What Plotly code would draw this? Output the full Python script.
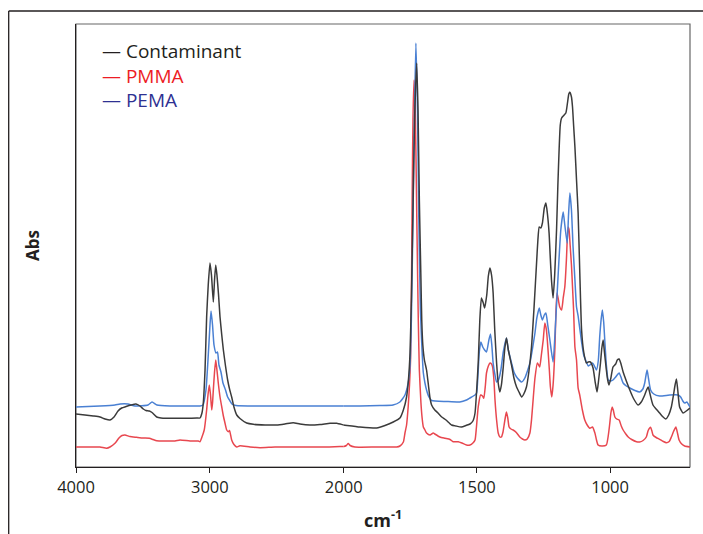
import plotly.graph_objects as go

# ---------------- data ----------------
tick_left = [4000, 3000, 2000]
tick_right = [1500, 1000]

pema_wn = [4000, 3821, 3709, 3671, 3612, 3559, 3462, 3432, 3395, 3298,
           3186, 3074, 3051, 3029, 3014, 2999, 2991, 2980, 2969, 2954,
           2943, 2932, 2917, 2902, 2883, 2867, 2849, 2835, 2805, 2625,
           2379, 2177, 2000, 1939, 1864, 1815, 1789, 1770, 1758, 1751,
           1746, 1740, 1734, 1729, 1723, 1718, 1712, 1706, 1701, 1695,
           1689, 1680, 1670, 1614, 1564, 1539, 1526, 1507, 1501, 1496,
           1491, 1485, 1478, 1464, 1455, 1449, 1444, 1439, 1432, 1426,
           1419, 1410, 1401, 1389, 1382, 1370, 1361, 1351, 1332, 1320,
           1309, 1301, 1292, 1282, 1275, 1266, 1260, 1254, 1247, 1241,
           1234, 1226, 1214, 1204, 1194, 1185, 1176, 1170, 1161, 1156,
           1151, 1145, 1139, 1132, 1126, 1120, 1107, 1099, 1089, 1082,
           1076, 1066, 1059, 1051, 1044, 1039, 1033, 1029, 1024, 1020,
           1014, 1007, 997, 989, 979, 966, 958, 951, 939, 926,
           907, 889, 877, 870, 865, 861, 856, 848, 836, 814,
           776, 745, 735, 727, 720, 712, 700]
pema_abs = [0.060, 0.061, 0.062, 0.063, 0.063, 0.061, 0.062, 0.065, 0.062, 0.061,
            0.061, 0.061, 0.062, 0.077, 0.107, 0.142, 0.156, 0.142, 0.122, 0.114,
            0.115, 0.102, 0.095, 0.084, 0.077, 0.070, 0.066, 0.063, 0.0615, 0.061,
            0.061, 0.061, 0.061, 0.061, 0.0615, 0.062, 0.065, 0.072, 0.084, 0.102,
            0.147, 0.247, 0.357, 0.424, 0.357, 0.247, 0.157, 0.117, 0.094, 0.084,
            0.077, 0.070, 0.0665, 0.0655, 0.065, 0.067, 0.069, 0.072, 0.074, 0.092,
            0.115, 0.125, 0.120, 0.115, 0.127, 0.133, 0.122, 0.104, 0.092, 0.085,
            0.087, 0.097, 0.115, 0.129, 0.117, 0.104, 0.095, 0.090, 0.085, 0.089,
            0.097, 0.104, 0.117, 0.134, 0.149, 0.159, 0.152, 0.147, 0.152, 0.154,
            0.142, 0.127, 0.105, 0.147, 0.197, 0.237, 0.255, 0.242, 0.224, 0.252,
            0.274, 0.257, 0.220, 0.187, 0.160, 0.151, 0.125, 0.112, 0.105, 0.101,
            0.102, 0.104, 0.101, 0.097, 0.107, 0.130, 0.149, 0.157, 0.145, 0.127,
            0.102, 0.087, 0.086, 0.087, 0.090, 0.094, 0.089, 0.084, 0.081, 0.079,
            0.0765, 0.075, 0.078, 0.084, 0.092, 0.097, 0.089, 0.077, 0.073, 0.071,
            0.072, 0.072, 0.070, 0.066, 0.064, 0.065, 0.060]

cont_wn = [4000, 3933, 3871, 3821, 3783, 3746, 3716, 3686, 3659, 3626,
           3589, 3552, 3522, 3497, 3477, 3452, 3432, 3397, 3365, 3322,
           3253, 3173, 3098, 3074, 3059, 3049, 3036, 3024, 3012, 2999,
           2988, 2974, 2965, 2956, 2947, 2935, 2924, 2911, 2899, 2883,
           2867, 2853, 2837, 2820, 2799, 2775, 2725, 2675, 2588, 2501,
           2439, 2377, 2327, 2252, 2177, 2102, 2052, 2000, 1939, 1876,
           1845, 1814, 1789, 1776, 1764, 1757, 1751, 1746, 1740, 1734,
           1726, 1721, 1716, 1710, 1707, 1703, 1697, 1689, 1682, 1676,
           1670, 1658, 1646, 1632, 1616, 1595, 1579, 1558, 1541, 1526,
           1515, 1507, 1502, 1495, 1489, 1483, 1476, 1471, 1463, 1457,
           1451, 1445, 1439, 1433, 1426, 1420, 1414, 1408, 1401, 1395,
           1389, 1382, 1370, 1361, 1351, 1342, 1332, 1324, 1314, 1305,
           1295, 1286, 1276, 1271, 1266, 1260, 1254, 1247, 1241, 1236,
           1229, 1225, 1220, 1214, 1208, 1201, 1196, 1191, 1187, 1182,
           1174, 1166, 1160, 1155, 1151, 1145, 1141, 1137, 1132, 1126,
           1120, 1114, 1107, 1099, 1089, 1082, 1074, 1064, 1056, 1049,
           1043, 1036, 1031, 1026, 1022, 1014, 1009, 1004, 997, 989,
           979, 973, 966, 960, 951, 939, 926, 911, 895, 883,
           870, 863, 857, 851, 839, 827, 814, 803, 791, 780,
           770, 762, 756, 751, 746, 739, 726, 714, 700]
cont_abs = [0.053, 0.052, 0.051, 0.050, 0.048, 0.047, 0.050, 0.056, 0.059, 0.0605,
            0.062, 0.063, 0.061, 0.058, 0.0565, 0.056, 0.0545, 0.050, 0.049, 0.0487,
            0.0487, 0.0487, 0.049, 0.049, 0.054, 0.064, 0.097, 0.150, 0.182, 0.204,
            0.192, 0.165, 0.187, 0.202, 0.192, 0.172, 0.150, 0.132, 0.117, 0.101,
            0.087, 0.078, 0.070, 0.060, 0.052, 0.0485, 0.044, 0.0427, 0.042, 0.042,
            0.043, 0.0443, 0.043, 0.042, 0.0425, 0.0437, 0.0437, 0.042, 0.040, 0.039,
            0.0415, 0.045, 0.049, 0.057, 0.070, 0.087, 0.114, 0.167, 0.257, 0.347,
            0.404, 0.357, 0.267, 0.187, 0.147, 0.122, 0.107, 0.097, 0.082, 0.069,
            0.062, 0.057, 0.054, 0.050, 0.047, 0.042, 0.041, 0.040, 0.0415, 0.043,
            0.046, 0.054, 0.072, 0.104, 0.147, 0.169, 0.164, 0.159, 0.172, 0.191,
            0.199, 0.192, 0.174, 0.137, 0.104, 0.084, 0.075, 0.082, 0.100, 0.119,
            0.129, 0.117, 0.102, 0.089, 0.080, 0.075, 0.070, 0.073, 0.080, 0.095,
            0.120, 0.157, 0.204, 0.227, 0.240, 0.239, 0.244, 0.259, 0.264, 0.255,
            0.234, 0.212, 0.187, 0.169, 0.192, 0.237, 0.282, 0.320, 0.342, 0.349,
            0.3515, 0.354, 0.364, 0.373, 0.375, 0.370, 0.360, 0.342, 0.320, 0.287,
            0.254, 0.197, 0.137, 0.115, 0.104, 0.105, 0.105, 0.099, 0.085, 0.075,
            0.087, 0.104, 0.119, 0.127, 0.117, 0.097, 0.087, 0.082, 0.089, 0.100,
            0.103, 0.107, 0.108, 0.104, 0.095, 0.086, 0.077, 0.068, 0.062, 0.065,
            0.072, 0.077, 0.080, 0.074, 0.062, 0.058, 0.054, 0.0505, 0.048, 0.052,
            0.060, 0.072, 0.082, 0.088, 0.077, 0.060, 0.054, 0.056, 0.059]

pmma_wn = [4000, 3895, 3821, 3771, 3746, 3709, 3679, 3656, 3634, 3597,
           3547, 3499, 3452, 3425, 3397, 3335, 3260, 3223, 3148, 3086,
           3074, 3059, 3042, 3024, 3014, 3004, 2995, 2986, 2980, 2974,
           2965, 2956, 2947, 2937, 2924, 2911, 2899, 2887, 2874, 2862,
           2853, 2837, 2820, 2799, 2775, 2700, 2625, 2513, 2377, 2252,
           2128, 2028, 2000, 1990, 1983, 1976, 1958, 1876, 1801, 1789,
           1776, 1770, 1764, 1758, 1753, 1749, 1746, 1743, 1740, 1736,
           1733, 1729, 1725, 1720, 1716, 1710, 1706, 1701, 1695, 1689,
           1676, 1664, 1658, 1639, 1620, 1601, 1589, 1570, 1556, 1539,
           1526, 1515, 1507, 1502, 1495, 1486, 1479, 1474, 1468, 1464,
           1457, 1451, 1445, 1441, 1436, 1432, 1426, 1420, 1414, 1408,
           1402, 1399, 1393, 1389, 1384, 1379, 1372, 1364, 1352, 1339,
           1329, 1320, 1311, 1301, 1295, 1289, 1282, 1273, 1268, 1264,
           1258, 1251, 1245, 1239, 1233, 1228, 1224, 1219, 1214, 1207,
           1203, 1199, 1194, 1189, 1182, 1176, 1170, 1164, 1160, 1157,
           1154, 1150, 1145, 1141, 1137, 1132, 1126, 1120, 1114, 1104,
           1095, 1086, 1076, 1066, 1057, 1051, 1045, 1031, 1014, 1007,
           1001, 997, 992, 988, 982, 975, 966, 958, 951, 941,
           932, 919, 901, 889, 876, 864, 857, 848, 843, 839,
           827, 814, 800, 789, 778, 770, 761, 753, 747, 741,
           731, 720, 700]
pmma_abs = [0.020, 0.020, 0.020, 0.0187, 0.020, 0.0237, 0.029, 0.0315, 0.032, 0.0305,
            0.0297, 0.029, 0.0287, 0.0275, 0.0263, 0.026, 0.026, 0.027, 0.026, 0.026,
            0.0253, 0.030, 0.037, 0.057, 0.072, 0.082, 0.072, 0.057, 0.064, 0.077,
            0.095, 0.107, 0.097, 0.084, 0.070, 0.060, 0.051, 0.044, 0.037, 0.0353,
            0.0365, 0.027, 0.0225, 0.020, 0.0213, 0.020, 0.0193, 0.020, 0.020, 0.020,
            0.020, 0.0205, 0.0205, 0.0215, 0.0235, 0.0215, 0.020, 0.020, 0.020, 0.021,
            0.025, 0.034, 0.042, 0.060, 0.082, 0.107, 0.167, 0.267, 0.347, 0.387,
            0.377, 0.317, 0.237, 0.147, 0.097, 0.064, 0.050, 0.040, 0.037, 0.034,
            0.032, 0.034, 0.033, 0.030, 0.0287, 0.0275, 0.0253, 0.0253, 0.024, 0.022,
            0.022, 0.024, 0.027, 0.039, 0.060, 0.072, 0.071, 0.0687, 0.082, 0.094,
            0.101, 0.104, 0.103, 0.100, 0.087, 0.067, 0.047, 0.034, 0.030, 0.030,
            0.035, 0.040, 0.050, 0.055, 0.049, 0.040, 0.038, 0.037, 0.0345, 0.030,
            0.028, 0.027, 0.028, 0.034, 0.047, 0.067, 0.089, 0.104, 0.102, 0.100,
            0.112, 0.127, 0.144, 0.137, 0.117, 0.097, 0.080, 0.070, 0.082, 0.120,
            0.157, 0.174, 0.167, 0.160, 0.157, 0.169, 0.180, 0.207, 0.232, 0.240,
            0.237, 0.222, 0.202, 0.180, 0.157, 0.120, 0.107, 0.079, 0.072, 0.057,
            0.047, 0.042, 0.0387, 0.040, 0.034, 0.027, 0.022, 0.021, 0.022, 0.031,
            0.044, 0.054, 0.060, 0.057, 0.050, 0.048, 0.047, 0.041, 0.037, 0.033,
            0.030, 0.0275, 0.0253, 0.025, 0.0265, 0.030, 0.0365, 0.0397, 0.036, 0.032,
            0.0295, 0.0277, 0.0255, 0.0243, 0.0255, 0.030, 0.036, 0.040, 0.034, 0.027,
            0.023, 0.021, 0.020]

assert len(pema_wn) == len(pema_abs)
assert len(cont_wn) == len(cont_abs)
assert len(pmma_wn) == len(pmma_abs)

series_names = ["PMMA", "PEMA", "Contaminant"]
line_colors = {"Contaminant": "#3b3b3b", "PMMA": "#e8474f", "PEMA": "#4a80d3"}
text_colors = {"Contaminant": "#231f20", "PMMA": "#ed1c24", "PEMA": "#2e3192"}
data = {"Contaminant": (cont_wn, cont_abs), "PMMA": (pmma_wn, pmma_abs), "PEMA": (pema_wn, pema_abs)}

# ---------------- figure ----------------
W, H = 703, 534
PL, PR, PT, PB = 76, 690, 24, 467          # plot box in page pixels
ML, MR, MT, MB = PL, W - PR, PT, H - PB
PW, PH = W - ML - MR, H - MT - MB


def px(xpage):
    return (xpage - PL) / PW


def py(ypage):
    return (PB - ypage) / PH


split = px(343.7)   # where the 2000 cm-1 scale change sits

fig = go.Figure()
for xa in ["x", "x2"]:
    for nm in series_names:
        wn, ab = data[nm]
        fig.add_trace(go.Scatter(
            x=wn, y=ab, xaxis=xa, yaxis="y", mode="lines", name=nm,
            showlegend=False, hoverinfo="skip",
            line=dict(color=line_colors[nm], width=1.5, shape="spline", smoothing=0.5)))

tickfont = dict(family="Open Sans, sans-serif", size=16.5, color="#231f20")
axis_common = dict(showgrid=False, zeroline=False, showline=True, linecolor="#231f20",
                   linewidth=1.2, ticks="outside", ticklen=5, tickwidth=1.2,
                   tickcolor="#231f20", tickfont=tickfont, automargin=False)

fig.update_layout(
    width=W, height=H, autosize=False, margin=dict(l=ML, r=MR, t=MT, b=MB),
    paper_bgcolor="white", plot_bgcolor="white",
    xaxis=dict(domain=[0, split], range=[4000, 2000], tickvals=tick_left,
               ticktext=[str(v) for v in tick_left], anchor="y", **axis_common),
    xaxis2=dict(domain=[split, 1], range=[2000, 700], tickvals=tick_right,
                ticktext=[str(v) for v in tick_right], anchor="y", **axis_common),
    yaxis=dict(domain=[0, 1], range=[0, PH / 1000.0], showticklabels=False,
               ticks="", showgrid=False, zeroline=False, showline=True, automargin=False,
               linecolor="#231f20", linewidth=1.2,
               title=dict(text="<b>Abs</b>", standoff=30,
                          font=dict(family="Open Sans, sans-serif", size=17, color="#231f20"))),
    showlegend=False,
)

# plot frame (grey) and the outer crop frame
fig.add_shape(type="rect", xref="paper", yref="paper", x0=0, x1=1, y0=0, y1=1,
              line=dict(color="#666666", width=1.2), layer="below")
fig.add_shape(type="line", xref="paper", yref="paper", x0=px(8.7), x1=px(703),
              y0=py(11), y1=py(11), line=dict(color="#231f20", width=1.3))
fig.add_shape(type="line", xref="paper", yref="paper", x0=px(8.7), x1=px(8.7),
              y0=py(534), y1=py(11), line=dict(color="#231f20", width=1.3))

# legend as coloured text lines
legend_rows = [("Contaminant", 51), ("PMMA", 75.5), ("PEMA", 100)]
for nm, ypg in legend_rows:
    fig.add_annotation(xref="paper", yref="paper", x=px(100), y=py(ypg),
                       xanchor="left", yanchor="middle", showarrow=False,
                       text="— " + nm,
                       font=dict(family="Open Sans, sans-serif", size=19, color=text_colors[nm]))

# x-axis title centred under the whole plot
fig.add_annotation(xref="paper", yref="paper", x=0.5, y=py(519),
                   xanchor="center", yanchor="middle", showarrow=False,
                   text="<b>cm<sup>-1</sup></b>",
                   font=dict(family="Open Sans, sans-serif", size=18, color="#231f20"))

fig.write_html(
    "out.html",
    config={"responsive": False, "displayModeBar": False},
    post_script="document.documentElement.style.overflow='hidden';"
                "document.body.style.margin='0';document.body.style.overflow='hidden';",
)
